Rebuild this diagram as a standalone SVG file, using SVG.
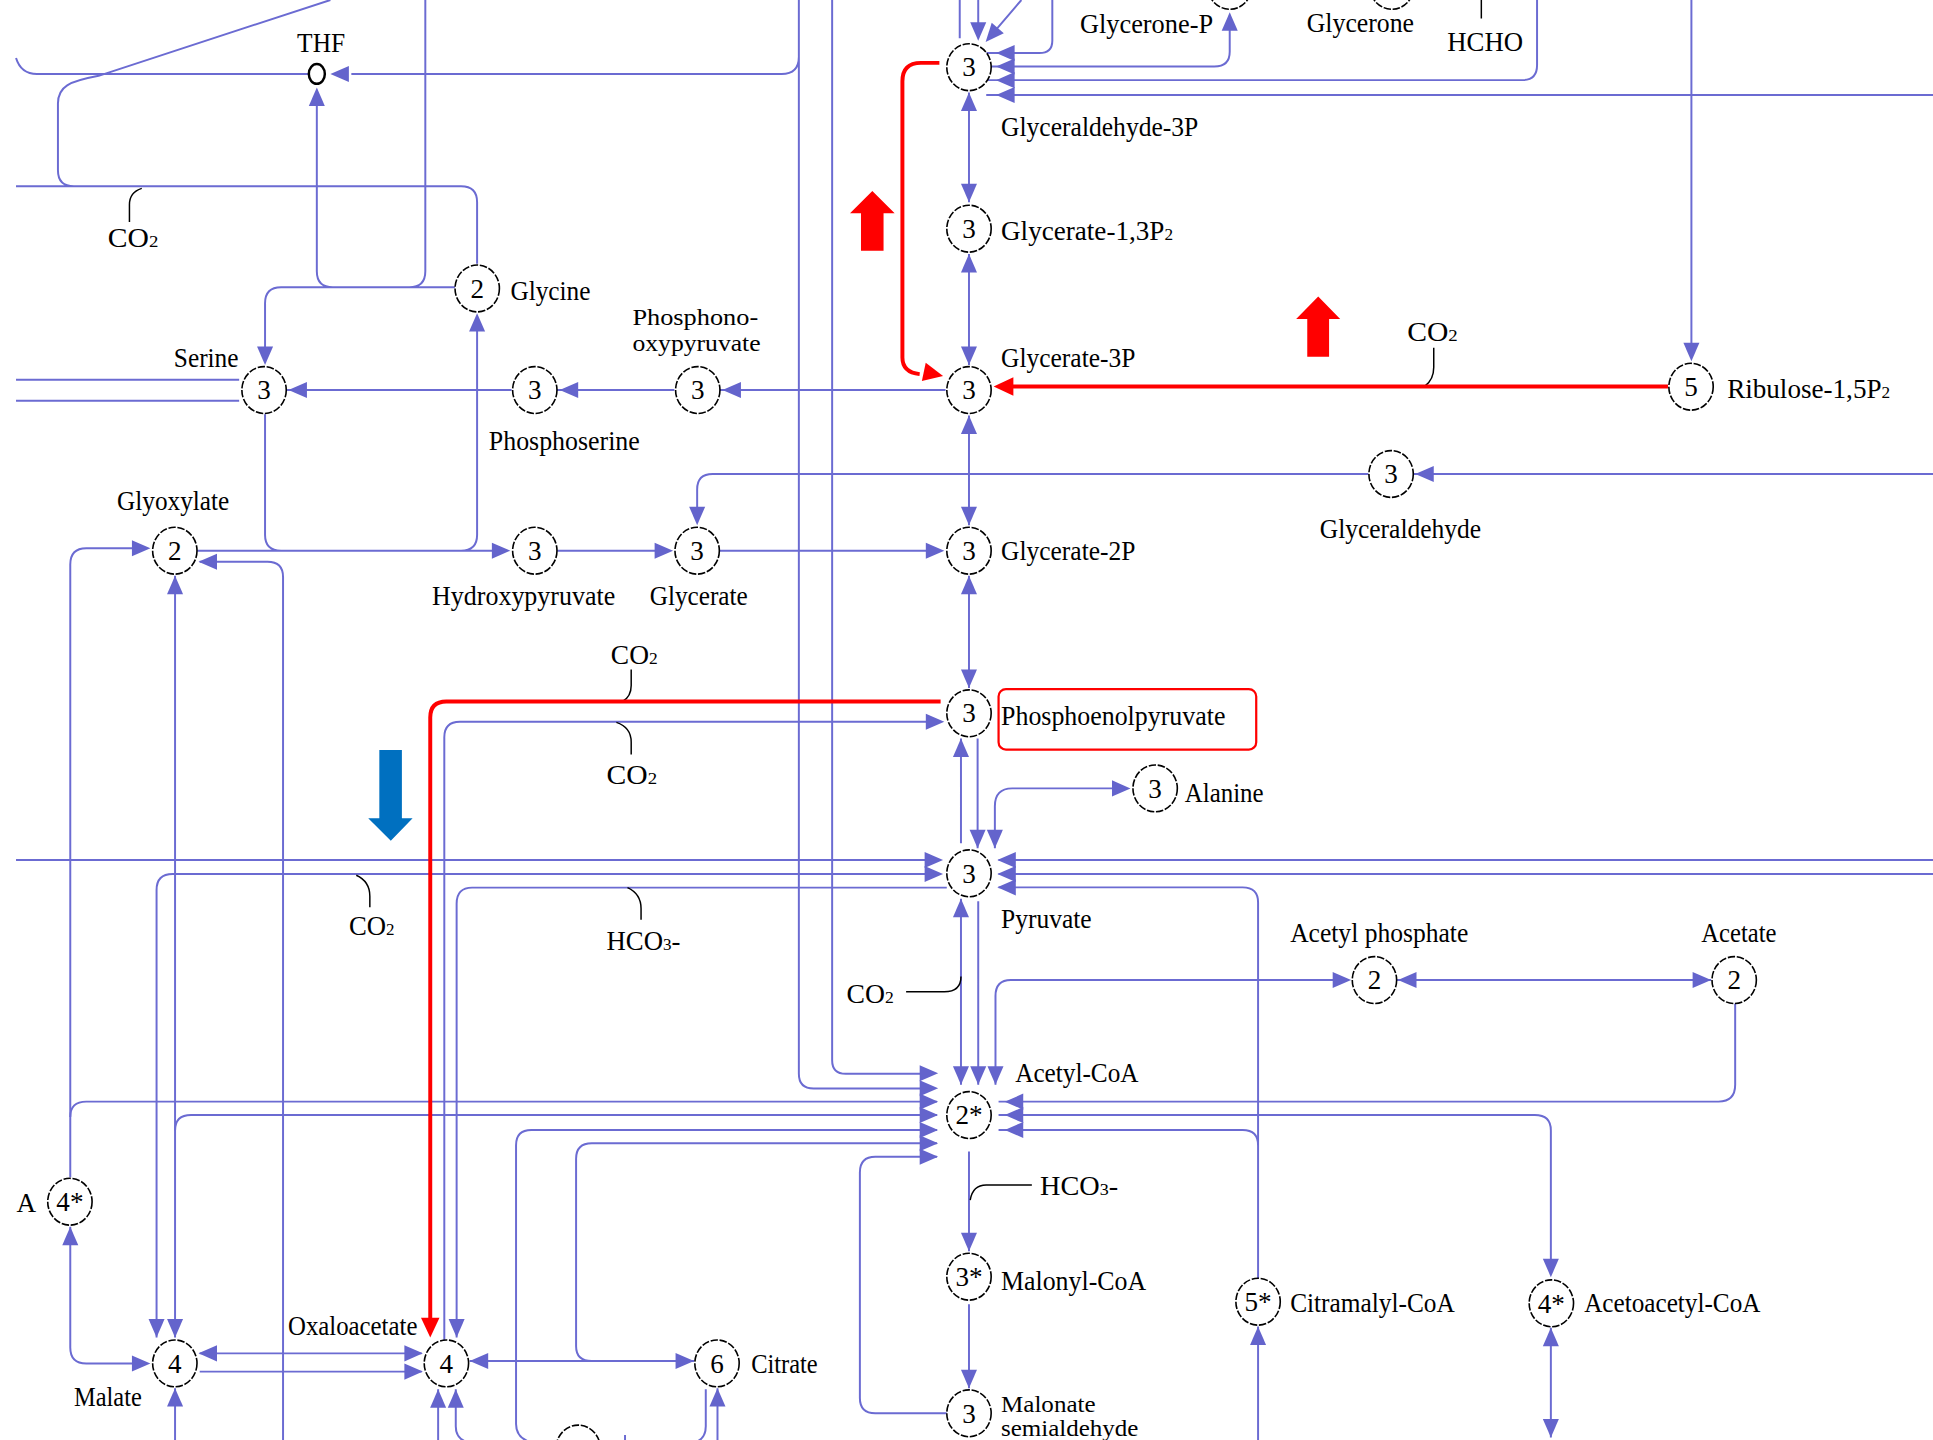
<svg xmlns="http://www.w3.org/2000/svg" width="1933" height="1440" viewBox="0 0 1933 1440">
<defs>
<style>
.l{fill:none;stroke:#6b6bd2;stroke-width:1.6}
.r{fill:none;stroke:#ff0000;stroke-width:3.2}
.h{fill:none;stroke:#000;stroke-width:1.2}
.c{fill:#fff;stroke:#000;stroke-width:1.3;stroke-dasharray:6 1.4}
text{font-family:"Liberation Serif","Times New Roman",serif;font-size:22px;fill:#000}
.n{text-anchor:middle;font-size:22px}
.s{font-size:14px}
.t{font-size:19px}
</style>
<path id="a" d="M0 0L-15 -6.5L-15 6.5Z" fill="#6464cc"/>
<path id="ra" d="M0 0L-16 -7.5L-16 7.5Z" fill="#ff0000"/>
</defs>
<rect width="1933" height="1440" fill="#fff"/>
<g transform="scale(1.2328)">
<g id="connectors">
<path class="l" d="M13 47Q17 60 30 60H250M285 60H634Q648 60 648 46M648 0V871Q648 883 660 883H750M675 0V860Q675 871 686 871H750M345 0V220Q345 233 332 233M369 233H228Q215 233 215 246V282M257 86V220Q257 233 270 233M13 151H374Q387 151 387 164V214M60 151Q47 151 47 138V84C47 70 56 66 80 61.5L268 0"/>
<path class="l" d="M13 308H194M13 325H194M415 316.4H225M547 316.4H445M767 316.4H577M387 268V434Q387 446.7 374 446.7M215 336V434Q215 446.7 228 446.7M160 446.7H400M452 446.7H532M584 446.7H752M1568 384.5H1140M1110 384.5H578Q565.5 384.5 565.5 397V412M1372 0V280"/>
<path class="l" d="M778.5 0V31M793.5 0V20M828.5 0L808 24M853.6 0V33Q853.6 43 843 43H800M800 54H985Q997.5 54 997.5 42V24M800 65H1235Q1246.8 65 1246.8 53V0M800 77H1568"/>
<path class="l" d="M786 75V164M786 206V296M786 337V426M786 467V558M779.5 599V684M793 599V688M807 688V654Q807 639.5 821 639.5H905"/>
<path class="l" d="M13 697.6H760M127 1085V722Q127 709 140 709H760M370.4 1085V733Q370.4 720 383 720H768M360.4 1087V598Q360.4 585.4 373 585.4H760M810 697.6H1568M810 709H1568M810 719.8H1008Q1020.5 719.8 1020.5 732V1037"/>
<path class="l" d="M1407.5 814V880Q1407.5 893.6 1394 893.6H810M810 904.5H1245Q1258 904.5 1258 917V1025M810 916.6H1008Q1020.5 916.6 1020.5 929"/>
<path class="l" d="M760 893.6H70Q57 893.6 57 906M760 904.5H155Q142 904.5 142 917M760 916.6H431Q418.6 916.6 418.6 929V1155Q418.6 1165 428 1169M760 927.4H480Q467.3 927.4 467.3 940V1092Q467.3 1104 480 1104M760 938.3H710Q697.5 938.3 697.5 951V1134Q697.5 1146.4 710 1146.4H768"/>
<path class="l" d="M779.5 729V880M793.5 731V880M807.5 880V808Q807.5 795 820 795H1085M1133 795H1388M786 934V1015M786 1058V1126M1020.5 1076V1168M1258 1077V1166"/>
<path class="l" d="M57 955V458Q57 444.8 70 444.8H112M57 995V1093Q57 1106 70 1106H112M162 455.6H217Q229.6 455.6 229.6 468V1168M142 467V1085M162 1097.8H342M162 1112.6H342M142 1126V1168M355.4 1127V1168M369.7 1127V1157Q369.7 1166 377 1169M381 1104H563M582 1126V1168M572.5 1127V1157Q572.5 1166 566 1169M507 1164V1168"/>
<path class="h" d="M115 152.8Q105 156 105 166V180M1163 282V298Q1163 308 1156 313M512 543V556Q512 565 505 569M500 586Q512 590 512 602V612M289 710Q300 715 300 727V736M509 720Q520 725 520 737V746M735 804.4H766Q779.5 804.4 779.5 792M787 973.4Q789 961.2 800 961.2H837M1201.6 0V15"/>
<path class="r" d="M763 569H362Q349 569 349 582V1070M762 51H747Q732 51 732 66V290Q732 302 746 303.5M1353 313.5H815"/>
<g id="arrowheads">
<use href="#a" transform="translate(268 60) rotate(180)"/>
<use href="#a" transform="translate(257 71) rotate(270)"/>
<use href="#a" transform="translate(215 296) rotate(90)"/>
<use href="#a" transform="translate(234 316.4) rotate(180)"/>
<use href="#a" transform="translate(454 316.4) rotate(180)"/>
<use href="#a" transform="translate(586 316.4) rotate(180)"/>
<use href="#a" transform="translate(387 254) rotate(270)"/>
<use href="#a" transform="translate(414 446.7)"/>
<use href="#a" transform="translate(546 446.7)"/>
<use href="#a" transform="translate(766 446.7)"/>
<use href="#a" transform="translate(1148 384.5) rotate(180)"/>
<use href="#a" transform="translate(565.5 426) rotate(90)"/>
<use href="#a" transform="translate(1372 293) rotate(90)"/>
<use href="#a" transform="translate(793.5 33) rotate(90)"/>
<use href="#a" transform="translate(799.5 34) rotate(131)"/>
<use href="#a" transform="translate(808 43) rotate(180)"/>
<use href="#a" transform="translate(808 54) rotate(180)"/>
<use href="#a" transform="translate(808 65) rotate(180)"/>
<use href="#a" transform="translate(808 77) rotate(180)"/>
<use href="#a" transform="translate(997.5 10) rotate(270)"/>
<use href="#a" transform="translate(786 75) rotate(270)"/>
<use href="#a" transform="translate(786 164) rotate(90)"/>
<use href="#a" transform="translate(786 206) rotate(270)"/>
<use href="#a" transform="translate(786 296) rotate(90)"/>
<use href="#a" transform="translate(786 337) rotate(270)"/>
<use href="#a" transform="translate(786 426) rotate(90)"/>
<use href="#a" transform="translate(786 467) rotate(270)"/>
<use href="#a" transform="translate(786 558) rotate(90)"/>
<use href="#a" transform="translate(779.5 599) rotate(270)"/>
<use href="#a" transform="translate(793 688) rotate(90)"/>
<use href="#a" transform="translate(807 688) rotate(90)"/>
<use href="#a" transform="translate(917 639.5)"/>
<use href="#a" transform="translate(765 697.6)"/>
<use href="#a" transform="translate(765 709)"/>
<use href="#a" transform="translate(127 1085) rotate(90)"/>
<use href="#a" transform="translate(142 1085) rotate(90)"/>
<use href="#a" transform="translate(370.4 1085) rotate(90)"/>
<use href="#a" transform="translate(766 585.4)"/>
<use href="#a" transform="translate(809 697.6) rotate(180)"/>
<use href="#a" transform="translate(809 709) rotate(180)"/>
<use href="#a" transform="translate(809 719.8) rotate(180)"/>
<use href="#a" transform="translate(815 893.6) rotate(180)"/>
<use href="#a" transform="translate(815 904.5) rotate(180)"/>
<use href="#a" transform="translate(815 916.6) rotate(180)"/>
<use href="#a" transform="translate(1258 1036) rotate(90)"/>
<use href="#a" transform="translate(761 870.6)"/>
<use href="#a" transform="translate(761 882.8)"/>
<use href="#a" transform="translate(761 893.6)"/>
<use href="#a" transform="translate(761 904.5)"/>
<use href="#a" transform="translate(761 916.6)"/>
<use href="#a" transform="translate(761 927.4)"/>
<use href="#a" transform="translate(761 938.3)"/>
<use href="#a" transform="translate(779.5 880) rotate(90)"/>
<use href="#a" transform="translate(793.5 880) rotate(90)"/>
<use href="#a" transform="translate(807.5 880) rotate(90)"/>
<use href="#a" transform="translate(779.5 729) rotate(270)"/>
<use href="#a" transform="translate(1096 795)"/>
<use href="#a" transform="translate(1134 795) rotate(180)"/>
<use href="#a" transform="translate(1388 795)"/>
<use href="#a" transform="translate(786 1015) rotate(90)"/>
<use href="#a" transform="translate(786 1126) rotate(90)"/>
<use href="#a" transform="translate(1020.5 1076) rotate(270)"/>
<use href="#a" transform="translate(1258 1077) rotate(270)"/>
<use href="#a" transform="translate(1258 1166) rotate(90)"/>
<use href="#a" transform="translate(122 444.8)"/>
<use href="#a" transform="translate(57 995) rotate(270)"/>
<use href="#a" transform="translate(122 1106)"/>
<use href="#a" transform="translate(161 455.6) rotate(180)"/>
<use href="#a" transform="translate(142 467) rotate(270)"/>
<use href="#a" transform="translate(161 1097.8) rotate(180)"/>
<use href="#a" transform="translate(343 1097.8)"/>
<use href="#a" transform="translate(343 1112.6)"/>
<use href="#a" transform="translate(142 1126) rotate(270)"/>
<use href="#a" transform="translate(355.4 1127) rotate(270)"/>
<use href="#a" transform="translate(369.7 1127) rotate(270)"/>
<use href="#a" transform="translate(381 1104) rotate(180)"/>
<use href="#a" transform="translate(563 1104)"/>
<use href="#a" transform="translate(582 1126) rotate(270)"/>
<use href="#ra" transform="translate(806 313.5) rotate(180)"/>
<use href="#ra" transform="translate(765 305) rotate(12)"/>
<use href="#ra" transform="translate(349 1085) rotate(90)"/>
</g>
<text x="87.5" y="200" textLength="41" lengthAdjust="spacingAndGlyphs">CO<tspan class="s">2</tspan></text>
<text x="1141.5" y="276.5" textLength="41" lengthAdjust="spacingAndGlyphs">CO<tspan class="s">2</tspan></text>
<text x="495.5" y="538.5" textLength="38" lengthAdjust="spacingAndGlyphs">CO<tspan class="s">2</tspan></text>
<text x="492" y="636" textLength="41" lengthAdjust="spacingAndGlyphs">CO<tspan class="s">2</tspan></text>
<text x="283" y="758.5" textLength="37" lengthAdjust="spacingAndGlyphs">CO<tspan class="s">2</tspan></text>
<text x="492" y="771" textLength="60" lengthAdjust="spacingAndGlyphs">HCO<tspan class="s">3</tspan>-</text>
<text x="686.7" y="813.3" textLength="38.3" lengthAdjust="spacingAndGlyphs">CO<tspan class="s">2</tspan></text>
<text x="843.6" y="969.3" textLength="63.4" lengthAdjust="spacingAndGlyphs">HCO<tspan class="s">3</tspan>-</text>
<text x="1174" y="41" textLength="61.5" lengthAdjust="spacingAndGlyphs">HCHO</text>
</g>
<g id="big-arrows">
<polygon points="689.5,173 707.6,155 725.7,173 716.7,173 716.7,203.4 698.4,203.4 698.4,173" fill="#ff0000"/>
<polygon points="1051.4,258.8 1069.3,240.6 1087.1,258.8 1078.1,258.8 1078.1,289.3 1060.4,289.3 1060.4,258.8" fill="#ff0000"/>
<polygon points="307.7,608.4 326,608.4 326,663.8 334.7,663.8 317,682 298.7,663.8 307.7,663.8" fill="#0070c0"/>
</g>
<g id="n-thf"><ellipse cx="257" cy="60" rx="6.5" ry="8" fill="#fff" stroke="#000" stroke-width="2"/><text x="241" y="42" textLength="39" lengthAdjust="spacingAndGlyphs">THF</text></g>
<g id="n-glycerone-p"><ellipse class="c" cx="997.5" cy="-11.5" rx="18" ry="19"/><text x="876" y="26.5" textLength="108" lengthAdjust="spacingAndGlyphs">Glycerone-P</text></g>
<g id="n-glycerone"><ellipse class="c" cx="1129" cy="-11.5" rx="18" ry="19"/><text x="1060" y="26" textLength="87" lengthAdjust="spacingAndGlyphs">Glycerone</text></g>
<g id="n-ga3p"><ellipse class="c" cx="786" cy="54.5" rx="18" ry="19"/><text class="n" x="786" y="62">3</text><text x="812" y="110.5" textLength="160" lengthAdjust="spacingAndGlyphs">Glyceraldehyde-3P</text></g>
<g id="n-g13p"><ellipse class="c" cx="786" cy="185.5" rx="18" ry="19"/><text class="n" x="786" y="193">3</text><text x="812" y="194.5" font-size="20.5">Glycerate-1,3P<tspan class="s">2</tspan></text></g>
<g id="n-g3p"><ellipse class="c" cx="786" cy="316.4" rx="18" ry="19"/><text class="n" x="786" y="324">3</text><text x="812" y="297.5" textLength="109" lengthAdjust="spacingAndGlyphs">Glycerate-3P</text></g>
<g id="n-g2p"><ellipse class="c" cx="786" cy="446.7" rx="18" ry="19"/><text class="n" x="786" y="454.2">3</text><text x="812" y="454.5" textLength="109" lengthAdjust="spacingAndGlyphs">Glycerate-2P</text></g>
<g id="n-pep"><ellipse class="c" cx="786" cy="578.6" rx="18" ry="19"/><text class="n" x="786" y="586">3</text><rect x="810" y="559" width="209" height="49" rx="6" fill="none" stroke="#ff0000" stroke-width="1.8"/><text x="812" y="588" textLength="182" lengthAdjust="spacingAndGlyphs">Phosphoenolpyruvate</text></g>
<g id="n-pyruvate"><ellipse class="c" cx="786" cy="708.4" rx="18" ry="19"/><text class="n" x="786" y="716">3</text><text x="812" y="753" textLength="73.5" lengthAdjust="spacingAndGlyphs">Pyruvate</text></g>
<g id="n-acetylcoa"><ellipse class="c" cx="786" cy="904.5" rx="18" ry="19"/><text class="n" x="786" y="912">2*</text><text x="823.5" y="877.5" textLength="100" lengthAdjust="spacingAndGlyphs">Acetyl-CoA</text></g>
<g id="n-malonylcoa"><ellipse class="c" cx="786" cy="1035.6" rx="18" ry="19"/><text class="n" x="786" y="1043">3*</text><text x="812" y="1046" textLength="117.7" lengthAdjust="spacingAndGlyphs">Malonyl-CoA</text></g>
<g id="n-msa"><ellipse class="c" cx="786" cy="1146.4" rx="18" ry="19"/><text class="n" x="786" y="1154">3</text><text class="t" x="812" y="1145" textLength="76.7" lengthAdjust="spacingAndGlyphs">Malonate</text><text class="t" x="812" y="1164.5" textLength="111.4" lengthAdjust="spacingAndGlyphs">semialdehyde</text></g>
<g id="n-ribulose"><ellipse class="c" cx="1371.7" cy="313.7" rx="18" ry="19"/><text class="n" x="1371.7" y="321">5</text><text x="1401" y="323" font-size="21.5">Ribulose-1,5P<tspan class="s">2</tspan></text></g>
<g id="n-glyceraldehyde"><ellipse class="c" cx="1128.4" cy="384.5" rx="18" ry="19"/><text class="n" x="1128.4" y="392">3</text><text x="1070.5" y="436.5" textLength="131" lengthAdjust="spacingAndGlyphs">Glyceraldehyde</text></g>
<g id="n-phosphonooxypyruvate"><ellipse class="c" cx="566" cy="316.4" rx="18" ry="19"/><text class="n" x="566" y="324">3</text><text class="t" x="513" y="263.5" textLength="102" lengthAdjust="spacingAndGlyphs">Phosphono-</text><text class="t" x="513" y="284.5" textLength="104" lengthAdjust="spacingAndGlyphs">oxypyruvate</text></g>
<g id="n-phosphoserine"><ellipse class="c" cx="433.8" cy="316.4" rx="18" ry="19"/><text class="n" x="433.8" y="324">3</text><text x="396.5" y="365" textLength="122.5" lengthAdjust="spacingAndGlyphs">Phosphoserine</text></g>
<g id="n-serine"><ellipse class="c" cx="214.2" cy="316.4" rx="18" ry="19"/><text class="n" x="214.2" y="324">3</text><text x="141" y="297.5" textLength="52.5" lengthAdjust="spacingAndGlyphs">Serine</text></g>
<g id="n-glycine"><ellipse class="c" cx="387.1" cy="234" rx="18" ry="19"/><text class="n" x="387.1" y="241.5">2</text><text x="414" y="243" textLength="65" lengthAdjust="spacingAndGlyphs">Glycine</text></g>
<g id="n-glyoxylate"><ellipse class="c" cx="141.8" cy="446.7" rx="18" ry="19"/><text class="n" x="141.8" y="454.2">2</text><text x="95" y="413.5" textLength="91" lengthAdjust="spacingAndGlyphs">Glyoxylate</text></g>
<g id="n-hydroxypyruvate"><ellipse class="c" cx="433.8" cy="446.7" rx="18" ry="19"/><text class="n" x="433.8" y="454.2">3</text><text x="350.5" y="491" textLength="148.5" lengthAdjust="spacingAndGlyphs">Hydroxypyruvate</text></g>
<g id="n-glycerate"><ellipse class="c" cx="565.5" cy="446.7" rx="18" ry="19"/><text class="n" x="565.5" y="454.2">3</text><text x="527" y="490.5" textLength="79.5" lengthAdjust="spacingAndGlyphs">Glycerate</text></g>
<g id="n-alanine"><ellipse class="c" cx="937" cy="639.5" rx="18" ry="19"/><text class="n" x="937" y="647">3</text><text x="961" y="650.5" textLength="64" lengthAdjust="spacingAndGlyphs">Alanine</text></g>
<g id="n-acetylphosphate"><ellipse class="c" cx="1114.9" cy="795" rx="18" ry="19"/><text class="n" x="1114.9" y="802.5">2</text><text x="1046.5" y="764" textLength="144.5" lengthAdjust="spacingAndGlyphs">Acetyl phosphate</text></g>
<g id="n-acetate"><ellipse class="c" cx="1406.7" cy="795" rx="18" ry="19"/><text class="n" x="1406.7" y="802.5">2</text><text x="1380" y="764" textLength="61" lengthAdjust="spacingAndGlyphs">Acetate</text></g>
<g id="n-a"><ellipse class="c" cx="56.7" cy="974.8" rx="18" ry="19"/><text class="n" x="56.7" y="982.3">4*</text><text x="13.3" y="983">A</text></g>
<g id="n-malate"><ellipse class="c" cx="141.8" cy="1105.9" rx="18" ry="19"/><text class="n" x="141.8" y="1113.4">4</text><text x="60" y="1140.5" textLength="55" lengthAdjust="spacingAndGlyphs">Malate</text></g>
<g id="n-oxaloacetate"><ellipse class="c" cx="362.1" cy="1105.9" rx="18" ry="19"/><text class="n" x="362.1" y="1113.4">4</text><text x="233.6" y="1083" textLength="105" lengthAdjust="spacingAndGlyphs">Oxaloacetate</text></g>
<g id="n-citrate"><ellipse class="c" cx="581.6" cy="1105.9" rx="18" ry="19"/><text class="n" x="581.6" y="1113.4">6</text><text x="609.3" y="1114" textLength="54" lengthAdjust="spacingAndGlyphs">Citrate</text></g>
<g id="n-bottom"><ellipse class="c" cx="469" cy="1175" rx="18" ry="19"/></g>
<g id="n-citramalylcoa"><ellipse class="c" cx="1020.5" cy="1055.9" rx="18" ry="19"/><text class="n" x="1020.5" y="1063.4">5*</text><text x="1046.5" y="1064" textLength="133.6" lengthAdjust="spacingAndGlyphs">Citramalyl-CoA</text></g>
<g id="n-acetoacetylcoa"><ellipse class="c" cx="1258.4" cy="1057.2" rx="18" ry="19"/><text class="n" x="1258.4" y="1064.7">4*</text><text x="1285" y="1064" textLength="143" lengthAdjust="spacingAndGlyphs">Acetoacetyl-CoA</text></g>
</g>
</svg>
